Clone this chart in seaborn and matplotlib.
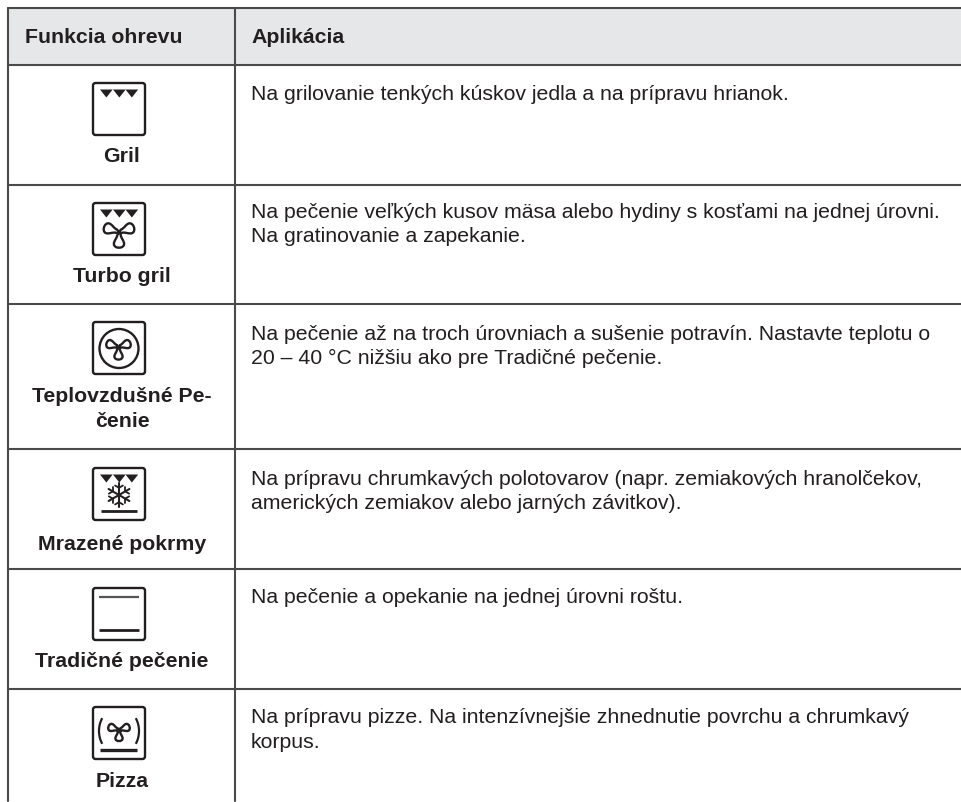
import numpy as np
import pandas as pd
import seaborn as sns
import matplotlib.pyplot as plt
from matplotlib.patches import Rectangle, FancyBboxPatch, Circle, Polygon, PathPatch, Arc
from matplotlib.path import Path

headers = ['Funkcia ohrevu', 'Aplikácia']
functions = [['Gril'], ['Turbo gril'], ['Teplovzdušné Pe-', 'čenie'], ['Mrazené pokrmy'],
             ['Tradičné pečenie'], ['Pizza']]
applications = [
    ['Na grilovanie tenkých kúskov jedla a na prípravu hrianok.'],
    ['Na pečenie veľkých kusov mäsa alebo hydiny s kosťami na jednej úrovni.',
     'Na gratinovanie a zapekanie.'],
    ['Na pečenie až na troch úrovniach a sušenie potravín. Nastavte teplotu o',
     '20 – 40 °C nižšiu ako pre Tradičné pečenie.'],
    ['Na prípravu chrumkavých polotovarov (napr. zemiakových hranolčekov,',
     'amerických zemiakov alebo jarných závitkov).'],
    ['Na pečenie a opekanie na jednej úrovni roštu.'],
    ['Na prípravu pizze. Na intenzívnejšie zhnednutie povrchu a chrumkavý',
     'korpus.'],
]
icons = ['gril', 'turbo', 'fan', 'frozen', 'conv', 'pizza']

rule_y = [9, 66, 185.5, 305, 450, 570, 690]
col_x = [8, 235]
icon_top = [84, 204, 323, 469, 589, 708]
label_base = [[162], [282], [402, 427], [550], [667], [787]]
app_base = [[100], [218, 242], [340, 364], [485, 509], [603], [723, 748]]

INK = '#231f20'
LINE = '#4a4a4a'
FS = 15.3

sns.set_theme(style='white')
plt.rcParams['font.family'] = ['Liberation Sans', 'DejaVu Sans']

fig = plt.figure(figsize=(9.62, 8.03), dpi=100)
ax = fig.add_axes([0, 0, 1, 1])

ax.add_patch(Rectangle((col_x[0], rule_y[0]), 962 - col_x[0], rule_y[1] - rule_y[0],
                       fc='#e6e7e8', ec='none', zorder=0))

# table rules
rows = []
for i, y in enumerate(rule_y):
    rows.append({'x': col_x[0], 'y': y, 'rule': 'h%d' % i})
    rows.append({'x': 962, 'y': y, 'rule': 'h%d' % i})
for i, x in enumerate(col_x):
    rows.append({'x': x, 'y': rule_y[0], 'rule': 'v%d' % i})
    rows.append({'x': x, 'y': 802, 'rule': 'v%d' % i})
rules = pd.DataFrame(rows)
sns.lineplot(data=rules, x='x', y='y', units='rule', estimator=None, sort=False,
             color=LINE, lw=1.5, ax=ax, zorder=2)


def fan(cx, cy, s, lw=1.7):
    # three outlined blades, one down and two swept up
    verts, codes = [], []
    blade = [(-2, 3), (-2, 7), (-6, 10), (-6, 14), (-6, 20), (6, 20), (6, 14),
             (6, 10), (2, 7), (2, 3)]
    for k, ang in enumerate([0, 108, -108]):
        a = np.radians(ang)
        c, n = np.cos(a), np.sin(a)
        pts = [(cx + s * (c * px - n * py), cy + s * (n * px + c * py)) for px, py in blade]
        verts.append(pts[0])
        codes.append(Path.MOVETO if k == 0 else Path.LINETO)
        verts.extend(pts[1:])
        codes.extend([Path.CURVE4] * 9)
    verts.append(verts[0])
    codes.append(Path.LINETO)
    ax.add_patch(PathPatch(Path(verts, codes), fc='none', ec=INK, lw=lw, zorder=3))


def arrows(top):
    for x0 in [100, 113, 125.5]:
        ax.add_patch(Polygon([(x0, top + 6.5), (x0 + 12.7, top + 6.5), (x0 + 6.35, top + 14.5)],
                             fc=INK, ec='none', zorder=3))


def bar(top, x0, x1, lw, color=INK):
    ax.plot([x0, x1], [top, top], color=color, lw=lw, solid_capstyle='butt', zorder=3)


def snowflake(cx, cy, r):
    for ang in [90, 30, -30]:
        a = np.radians(ang)
        dx, dy = np.cos(a), np.sin(a)
        ax.plot([cx - r * dx, cx + r * dx], [cy - r * dy, cy + r * dy], color=INK, lw=1.5, zorder=3)
        for sign in [-1, 1]:
            bx, by = cx + sign * r * 0.6 * dx, cy + sign * r * 0.6 * dy
            for off in [60, -60]:
                b = a + np.radians(off)
                ax.plot([bx, bx + sign * 4.5 * np.cos(b)], [by, by + sign * 4.5 * np.sin(b)],
                        color=INK, lw=1.3, zorder=3)


for kind, top in zip(icons, icon_top):
    ax.add_patch(FancyBboxPatch((93, top), 52, 52, boxstyle='round,pad=0,rounding_size=2.5',
                                fc='none', ec=INK, lw=1.7, zorder=3))
    cx = 119
    if kind == 'gril':
        arrows(top)
    elif kind == 'turbo':
        arrows(top)
        fan(cx, top + 29, 0.85)
    elif kind == 'fan':
        ax.add_patch(Circle((cx, top + 26.5), 19.5, fc='none', ec=INK, lw=1.7, zorder=3))
        fan(cx - 0.5, top + 25, 0.68)
    elif kind == 'frozen':
        arrows(top)
        snowflake(cx, top + 27, 12)
        bar(top + 43, 101, 137, 2)
    elif kind == 'conv':
        bar(top + 9, 99, 139, 1.6, '#555555')
        bar(top + 42, 99, 139, 2)
    elif kind == 'pizza':
        fan(cx, top + 23, 0.6)
        ax.add_patch(Arc((113, top + 24), 28, 40, theta1=130, theta2=230, ec=INK, lw=1.6, zorder=3))
        ax.add_patch(Arc((125, top + 24), 28, 40, theta1=-50, theta2=50, ec=INK, lw=1.6, zorder=3))
        bar(top + 43, 100, 137, 2.4)

ax.text(25, 43, headers[0], fontsize=FS, fontweight='bold', color=INK, va='baseline', ha='left', zorder=4)
ax.text(251, 43, headers[1], fontsize=FS, fontweight='bold', color=INK, va='baseline', ha='left', zorder=4)

for lines, bases in zip(functions, label_base):
    for t, y in zip(lines, bases):
        ax.text(122, y, t, fontsize=FS, fontweight='bold', color=INK, va='baseline', ha='center', zorder=4)

for lines, bases in zip(applications, app_base):
    for t, y in zip(lines, bases):
        ax.text(251, y, t, fontsize=FS, color=INK, va='baseline', ha='left', zorder=4)

ax.set_xlim(0, 962)
ax.set_ylim(803, 0)
ax.axis('off')
fig.savefig('out.png', dpi=100)
